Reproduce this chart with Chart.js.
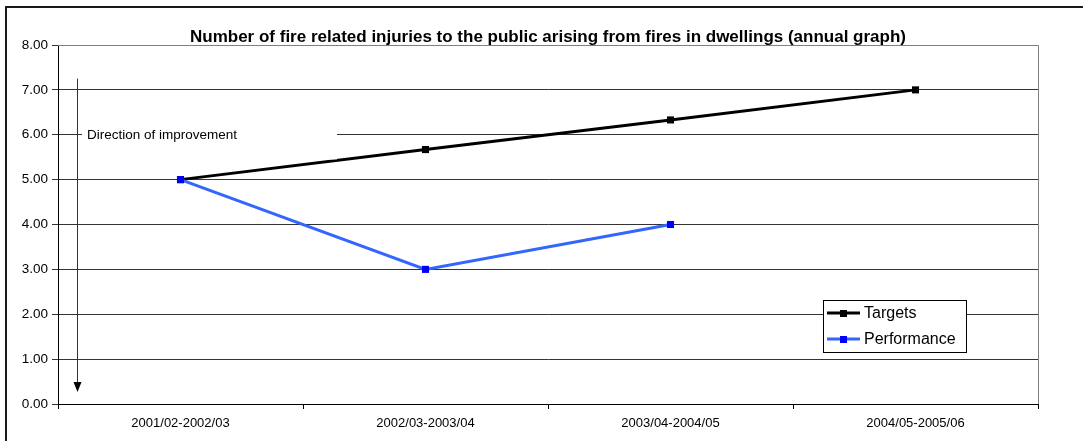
<!DOCTYPE html>
<html lang="en">
<head>
    <meta charset="UTF-8">
    <title>Fire related injuries</title>
    <script src="https://cdn.jsdelivr.net/npm/chart.js"></script>
    <style>
        html, body { margin: 0; padding: 0; background: #fff; }
        .chart-container { position: relative; width: 1083px; height: 441px; }
    </style>
</head>
<body>

<div class="chart-container">
    <canvas id="injuryChart"></canvas>
</div>

<script>
    // Dados do grafico
    var periods = ["2001/02-2002/03", "2002/03-2003/04", "2003/04-2004/05", "2004/05-2005/06"];
    var targets = [5.00, 5.67, 6.33, 7.00];
    var performance = [5.00, 3.00, 4.00, null];
    var chartTitle = "Number of fire related injuries to the public arising from fires in dwellings (annual graph)";
    var noteText = "Direction of improvement";

    var FONT = "'Liberation Sans', Arial, sans-serif";

    // moldura, titulo, nota com seta e legenda
    var extras = {
        id: 'extras',
        beforeDraw: function(chart) {
            var ctx = chart.ctx;
            ctx.save();
            ctx.fillStyle = '#fff';
            ctx.fillRect(0, 0, chart.width, chart.height);
            ctx.strokeStyle = '#1a1a1a';
            ctx.lineWidth = 2;
            ctx.beginPath();
            ctx.moveTo(6, chart.height);
            ctx.lineTo(6, 7);
            ctx.lineTo(chart.width, 7);
            ctx.stroke();
            ctx.restore();
        },
        afterDatasetsDraw: function(chart) {
            var ctx = chart.ctx;
            var area = chart.chartArea;
            var y = chart.scales.y;
            ctx.save();

            // borda superior e direita da area do grafico
            ctx.strokeStyle = '#808080';
            ctx.lineWidth = 1;
            ctx.beginPath();
            ctx.moveTo(area.left, area.top + 0.5);
            ctx.lineTo(area.right + 0.5, area.top + 0.5);
            ctx.lineTo(area.right + 0.5, area.bottom);
            ctx.stroke();

            // caixa da nota
            var boxLeft = area.left + 24;
            ctx.fillStyle = '#fff';
            ctx.fillRect(boxLeft, y.getPixelForValue(6.5), 255, y.getPixelForValue(5.45) - y.getPixelForValue(6.5));
            ctx.fillStyle = '#000';
            ctx.font = '13.5px ' + FONT;
            ctx.textBaseline = 'middle';
            ctx.textAlign = 'left';
            ctx.fillText(noteText, area.left + 29, y.getPixelForValue(6) + 1);

            // seta
            var ax = area.left + 19.5;
            var yTop = y.getPixelForValue(7.25);
            var yTip = y.getPixelForValue(0.27);
            ctx.strokeStyle = '#333';
            ctx.lineWidth = 1;
            ctx.beginPath();
            ctx.moveTo(ax, yTop);
            ctx.lineTo(ax, yTip - 6);
            ctx.stroke();
            ctx.fillStyle = '#000';
            ctx.beginPath();
            ctx.moveTo(ax - 4, yTip - 10);
            ctx.lineTo(ax + 4, yTip - 10);
            ctx.lineTo(ax, yTip);
            ctx.closePath();
            ctx.fill();
            ctx.restore();
        },
        afterDraw: function(chart) {
            var ctx = chart.ctx;
            var area = chart.chartArea;
            ctx.save();

            // titulo
            ctx.fillStyle = '#000';
            ctx.font = 'bold 17px ' + FONT;
            ctx.textAlign = 'center';
            ctx.textBaseline = 'middle';
            ctx.fillText(chartTitle, (area.left + area.right) / 2, 37);

            // legenda
            var lx = 823.5, ly = 300.5, lw = 143, lh = 52;
            ctx.fillStyle = '#fff';
            ctx.fillRect(lx, ly, lw, lh);
            ctx.strokeStyle = '#000';
            ctx.lineWidth = 1;
            ctx.strokeRect(lx, ly, lw, lh);
            ctx.font = '16px ' + FONT;
            ctx.textAlign = 'left';
            chart.data.datasets.forEach(function(ds, i) {
                var rowY = 313 + i * 26;
                ctx.strokeStyle = ds.borderColor;
                ctx.lineWidth = 3;
                ctx.beginPath();
                ctx.moveTo(827, rowY);
                ctx.lineTo(860, rowY);
                ctx.stroke();
                ctx.fillStyle = ds.pointBackgroundColor;
                ctx.fillRect(840, rowY - 3, 7, 7);
                ctx.fillStyle = '#000';
                ctx.fillText(ds.label, 864, rowY + 1);
            });
            ctx.restore();
        }
    };

    var ctx = document.getElementById('injuryChart').getContext('2d');

    var injuryChart = new Chart(ctx, {
        type: 'line',
        data: {
            labels: periods,
            datasets: [
                {
                    label: "Targets",
                    data: targets,
                    order: 2,
                    borderColor: '#000000',
                    backgroundColor: '#000000',
                    pointBackgroundColor: '#000000',
                    pointBorderColor: '#000000',
                    borderWidth: 3,
                    pointStyle: 'rect',
                    pointRadius: 5,
                    pointBorderWidth: 0,
                    tension: 0
                },
                {
                    label: "Performance",
                    data: performance,
                    order: 1,
                    borderColor: '#3366ff',
                    backgroundColor: '#0000ff',
                    pointBackgroundColor: '#0000ff',
                    pointBorderColor: '#0000ff',
                    borderWidth: 3,
                    pointStyle: 'rect',
                    pointRadius: 5,
                    pointBorderWidth: 0,
                    tension: 0
                }
            ]
        },
        options: {
            responsive: true,
            maintainAspectRatio: false,
            animation: false,
            layout: { padding: { top: 45, right: 45, left: 0, bottom: 0 } },
            plugins: {
                legend: { display: false },
                title: { display: false },
                tooltip: { enabled: false }
            },
            scales: {
                x: {
                    offset: true,
                    grid: {
                        offset: true,
                        drawOnChartArea: false,
                        drawTicks: true,
                        tickLength: 5,
                        color: '#000'
                    },
                    border: { color: '#000', width: 1 },
                    ticks: {
                        color: '#000',
                        font: { family: FONT, size: 13 },
                        padding: 7,
                        maxRotation: 0
                    },
                    afterFit: function(scale) { scale.height = 37; }
                },
                y: {
                    min: 0,
                    max: 8,
                    ticks: {
                        stepSize: 1,
                        color: '#000',
                        font: { family: FONT, size: 13.5 },
                        padding: 4,
                        callback: function(v) { return v.toFixed(2); }
                    },
                    grid: {
                        color: '#333',
                        lineWidth: 1,
                        tickLength: 6
                    },
                    border: { color: '#000', width: 1 },
                    afterFit: function(scale) { scale.width = 58; }
                }
            }
        },
        plugins: [extras]
    });
</script>

</body>
</html>
